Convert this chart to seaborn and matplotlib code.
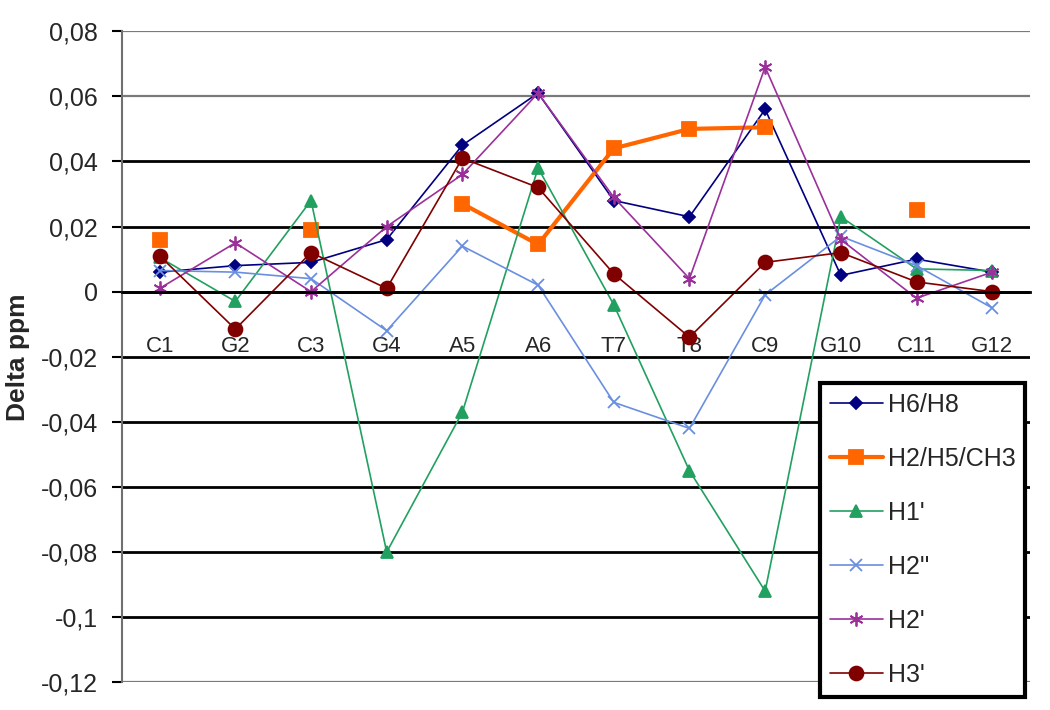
import numpy as np
import pandas as pd
import matplotlib
matplotlib.use("Agg")
import matplotlib.pyplot as plt
import seaborn as sns
from matplotlib.ticker import FixedLocator, FuncFormatter, MultipleLocator

# residues along the strand
residues = ["C1", "G2", "C3", "G4", "A5", "A6", "T7", "T8", "C9", "G10", "C11", "G12"]

# chemical shift differences (ppm)
h6_h8 = [0.006, 0.008, 0.009, 0.016, 0.045, 0.061, 0.028, 0.023, 0.056, 0.005, 0.010, 0.006]
h2_h5_ch3 = [0.016, np.nan, 0.019, np.nan, 0.027, 0.0145, 0.044, 0.050, 0.0505, np.nan, 0.025, np.nan]
h1p = [0.0105, -0.003, 0.028, -0.080, -0.037, 0.038, -0.004, -0.055, -0.092, 0.023, 0.007, 0.0065]
h2pp = [0.0065, 0.006, 0.004, -0.012, 0.014, 0.002, -0.034, -0.042, -0.001, 0.017, 0.008, -0.005]
h2p = [0.001, 0.015, 0.000, 0.020, 0.036, 0.061, 0.029, 0.004, 0.069, 0.016, -0.002, 0.006]
h3p = [0.011, -0.0115, 0.012, 0.001, 0.041, 0.032, 0.0055, -0.014, 0.009, 0.012, 0.003, 0.000]

series = [
    ("H6/H8", h6_h8, "#000080", "D", 6, 1.2),
    ("H2/H5/CH3", h2_h5_ch3, "#FF6600", "s", 10, 3.0),
    ("H1'", h1p, "#22A060", "^", 9, 1.2),
    ("H2''", h2pp, "#6A8FE0", "x", 9, 1.2),
    ("H2'", h2p, "#9B309B", (6, 2, 0), 10, 1.2),
    ("H3'", h3p, "#800000", "o", 10, 1.2),
]

sns.set_style("white")
plt.rcParams["font.family"] = ["Liberation Sans", "DejaVu Sans"]

fig, ax = plt.subplots(figsize=(10.5, 7.1), dpi=100)
fig.subplots_adjust(left=0.116, right=0.981, top=0.956, bottom=0.039)

pos = np.arange(len(residues))
for name, vals, color, marker, ms, lw in series:
    style = dict(color=color, marker=marker, markersize=ms, linewidth=lw,
                 markeredgecolor=color, markeredgewidth=1.3, label=name)
    if np.isnan(vals).any():
        # keep the gaps where a residue has no value
        ax.plot(pos, vals, **style)
    else:
        df = pd.DataFrame({"pos": pos, "delta": vals})
        sns.lineplot(data=df, x="pos", y="delta", ax=ax, estimator=None, sort=False, **style)

ax.set_xlim(-0.5, len(residues) - 0.5)
ax.set_ylim(-0.12, 0.08)
ax.yaxis.set_major_locator(MultipleLocator(0.02))
ax.yaxis.set_major_formatter(FuncFormatter(lambda v, p: f"{round(v, 2):g}".replace(".", ",")))

# category labels under the zero line, ticks between categories
ax.xaxis.set_major_locator(FixedLocator(pos))
ax.set_xticklabels(residues)
ax.xaxis.set_minor_locator(FixedLocator(np.arange(-0.5, len(residues), 1.0)))
ax.tick_params(axis="x", which="major", length=0, pad=32, labelsize=16)
ax.tick_params(axis="x", which="minor", length=6, width=1.2, color="black", direction="out")
ax.tick_params(axis="y", length=7, width=1.5, color="black", pad=10, labelsize=18, left=True)

ax.spines["bottom"].set_position(("data", 0))
ax.spines["bottom"].set_color("black")
ax.spines["bottom"].set_linewidth(2)
ax.spines["left"].set_color("#707070")
ax.spines["left"].set_linewidth(1.5)
ax.spines["top"].set_visible(False)
ax.spines["right"].set_visible(False)

ax.yaxis.grid(True, color="black", linewidth=2)
ax.set_axisbelow(True)
for gl, v in zip(ax.get_ygridlines(), ax.get_yticks()):
    if v > 0.05 or v < -0.11:
        gl.set_color("#7a7a7a")
        gl.set_linewidth(1.6)

ax.set_xlabel("")
ax.set_ylabel("Delta ppm", fontsize=19, fontweight="bold", labelpad=8)

handles, labels = ax.get_legend_handles_labels()
if ax.get_legend() is not None:
    ax.get_legend().remove()
leg = fig.legend(handles, labels, loc="upper left", bbox_to_anchor=(820 / 1050, 1 - 383 / 710),
                 fontsize=18, frameon=True, fancybox=False, framealpha=1,
                 edgecolor="black", labelspacing=1.2, handlelength=2.1,
                 handletextpad=0.2, borderpad=0.4, borderaxespad=0)
leg.get_frame().set_linewidth(3)

fig.savefig("out.png", dpi=100)
